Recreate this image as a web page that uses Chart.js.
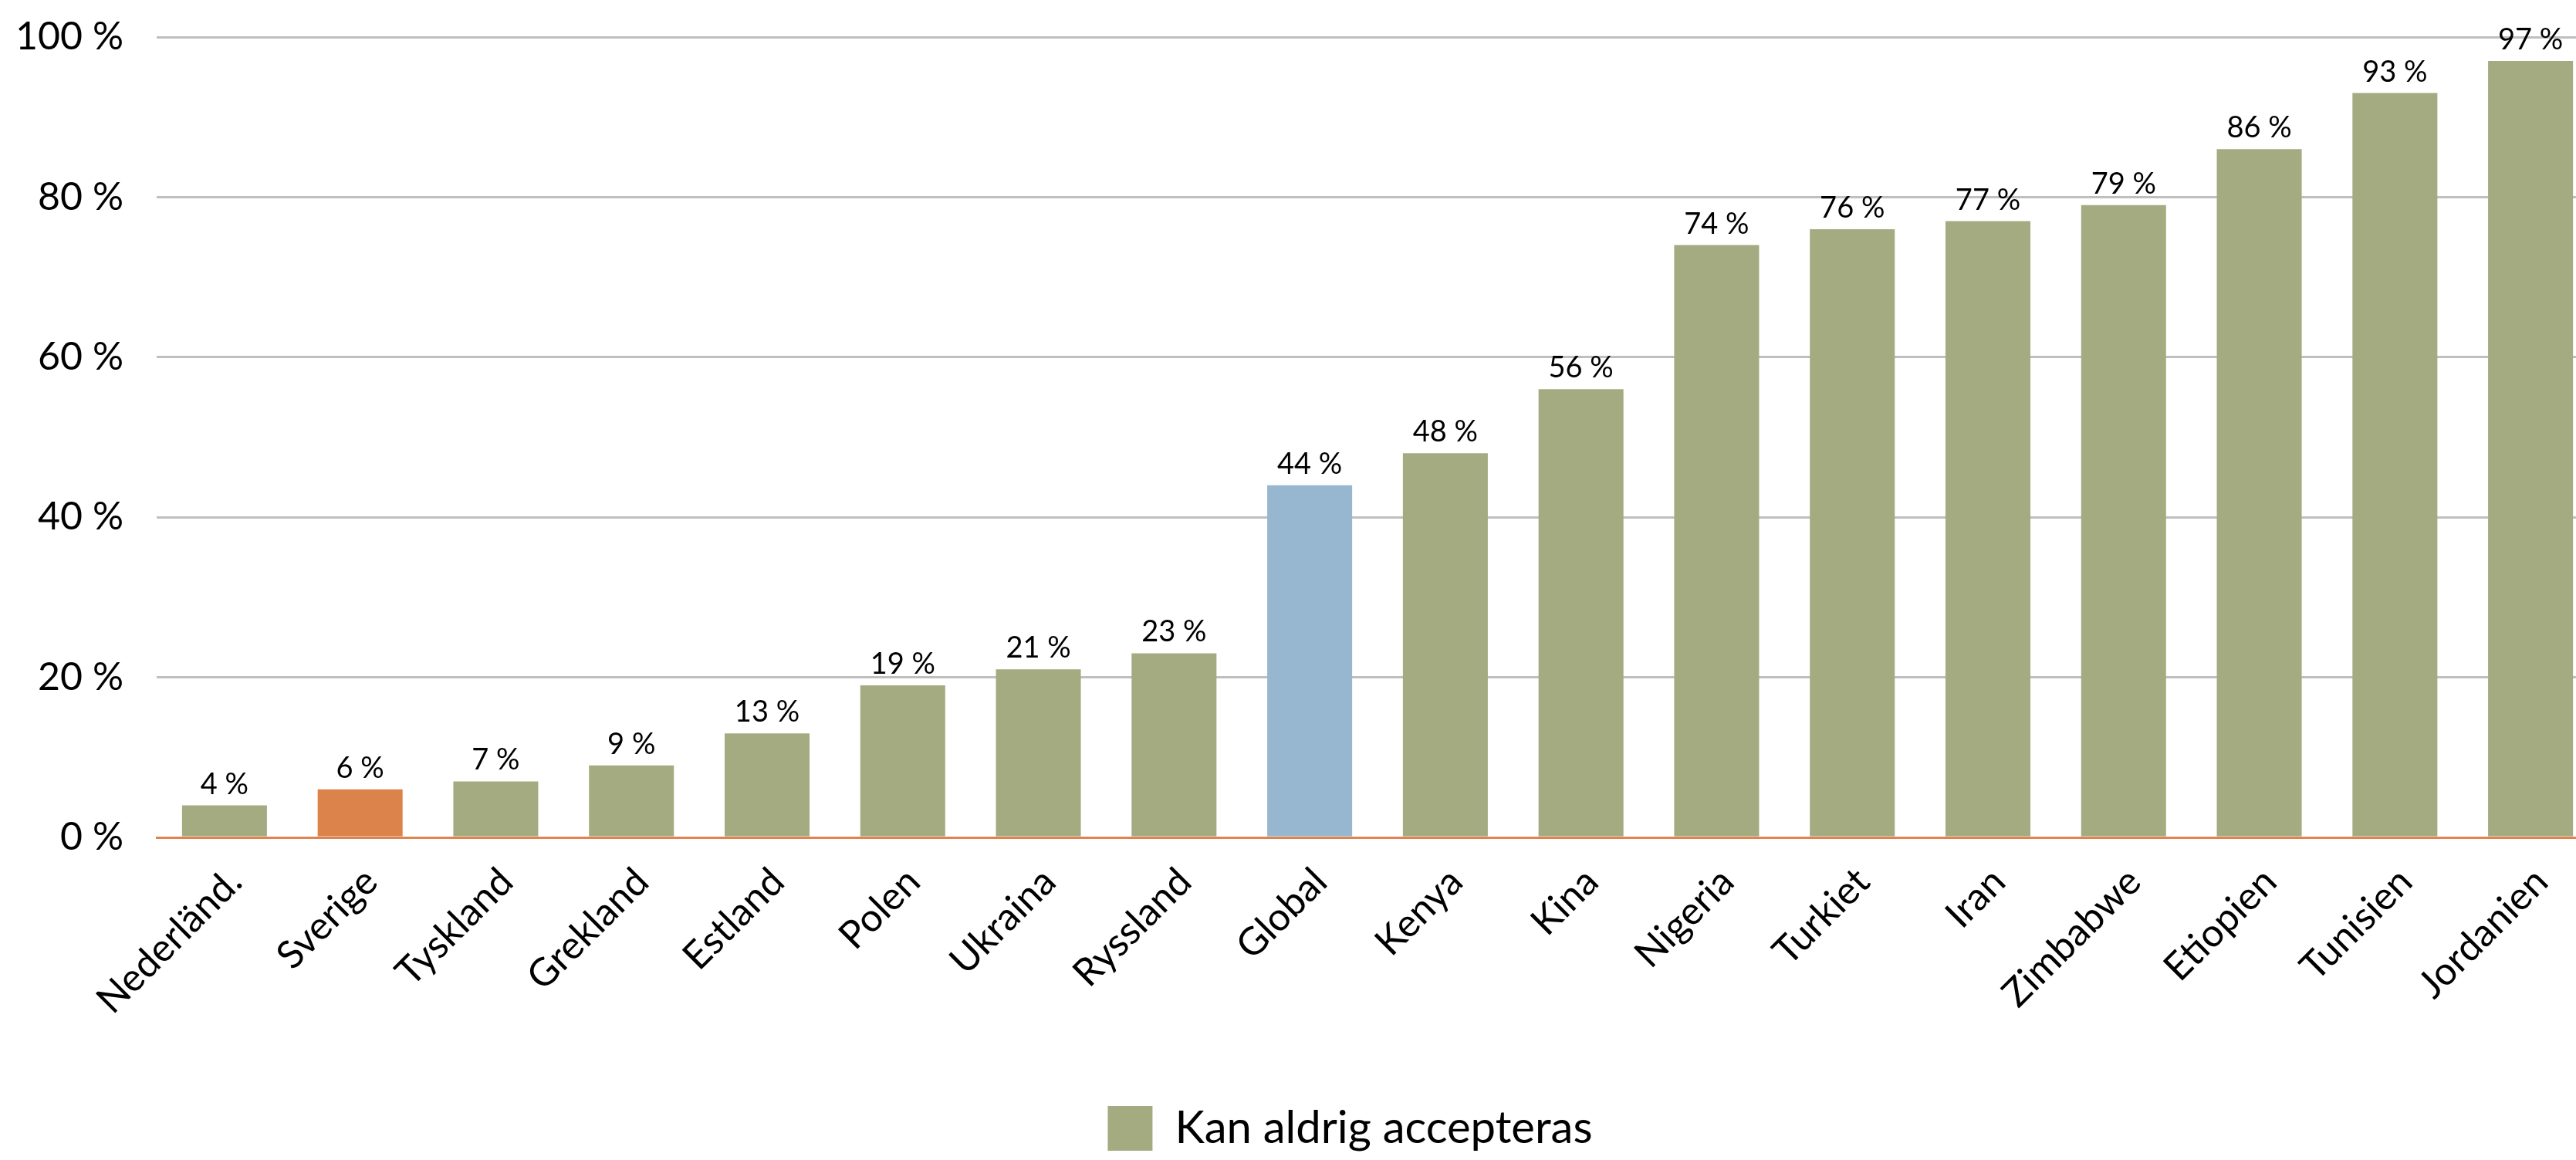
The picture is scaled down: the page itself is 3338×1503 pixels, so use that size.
<!DOCTYPE html>
<html lang="sv">
<head>
<meta charset="utf-8">
<title>Kan aldrig accepteras</title>
<script src="https://cdn.jsdelivr.net/npm/chart.js@4.4.1/dist/chart.umd.min.js"></script>
<style>
    html, body { margin: 0; padding: 0; background: #fff; overflow: hidden; }
</style>
</head>
<body>
<canvas id="grafico" width="3367" height="1503"></canvas>
<script>
const kategorier = ['Nederländ.', 'Sverige', 'Tyskland', 'Grekland', 'Estland', 'Polen', 'Ukraina', 'Ryssland', 'Global',
    'Kenya', 'Kina', 'Nigeria', 'Turkiet', 'Iran', 'Zimbabwe', 'Etiopien', 'Tunisien', 'Jordanien'];
const andel = [4, 6, 7, 9, 13, 19, 21, 23, 44, 48, 56, 74, 76, 77, 79, 86, 93, 97];
const serieNamn = 'Kan aldrig accepteras';
const yTicks = [0, 20, 40, 60, 80, 100];

document.addEventListener('DOMContentLoaded', function() {
    const ctx = document.getElementById('grafico').getContext('2d');
    const font = 'Lato';

    const gron = '#A4AB80';
    const farg = function(c) {
        const namn = kategorier[c.dataIndex];
        if (namn === 'Sverige') return '#DC824B';
        if (namn === 'Global') return '#97B6CF';
        return gron;
    };

    // etiketter ovanför staplarna
    const etiketter = {
        id: 'etiketter',
        afterDatasetsDraw(chart) {
            const c = chart.ctx;
            const meta = chart.getDatasetMeta(0);
            c.save();
            c.font = '38px ' + font;
            c.fillStyle = '#000';
            c.textAlign = 'center';
            c.textBaseline = 'alphabetic';
            meta.data.forEach(function(bar, i) {
                c.fillText(andel[i] + ' %', bar.x, bar.y - 15);
            });
            c.restore();
        }
    };

    // flytta legenden lite åt höger
    const legendFlytt = {
        id: 'legendFlytt',
        afterLayout(chart) {
            chart.legend.left += 66;
            chart.legend.right += 66;
        }
    };

    new Chart(ctx, {
        type: 'bar',
        data: {
            labels: kategorier,
            datasets: [{
                label: serieNamn,
                data: andel,
                backgroundColor: farg,
                borderWidth: 0,
                categoryPercentage: 1,
                barPercentage: 0.626
            }]
        },
        options: {
            responsive: false,
            animation: false,
            layout: { padding: { top: 48, left: 0, right: 0, bottom: 2 } },
            scales: {
                x: {
                    grid: { display: false },
                    border: { display: true, color: '#DD8450', width: 3 },
                    ticks: {
                        autoSkip: false,
                        minRotation: 45,
                        maxRotation: 45,
                        color: '#000',
                        font: { family: font, size: 50 },
                        padding: 20,
                        labelOffset: 14
                    },
                    afterFit(scale) {
                        scale.height = 338;
                        scale.paddingLeft = 0;
                        scale.paddingRight = 0;
                    }
                },
                y: {
                    min: 0,
                    max: 100,
                    afterBuildTicks(scale) { scale.ticks = yTicks.map(v => ({ value: v })); },
                    grid: {
                        color: c => c.tick && c.tick.value === 0 ? 'rgba(0,0,0,0)' : '#BFBFBF',
                        lineWidth: 3,
                        drawTicks: false
                    },
                    border: { display: false },
                    ticks: {
                        color: '#000',
                        font: { family: font, size: 50 },
                        padding: 43,
                        callback: v => v + ' %'
                    },
                    afterFit(scale) {
                        scale.width = 203;
                        scale.paddingTop = 0;
                        scale.paddingBottom = 0;
                    }
                }
            },
            plugins: {
                legend: {
                    position: 'bottom',
                    labels: {
                        boxWidth: 58,
                        boxHeight: 58,
                        padding: 10,
                        color: '#000',
                        font: { family: font, size: 58 },
                        generateLabels(chart) {
                            return [{
                                text: serieNamn,
                                fillStyle: gron,
                                strokeStyle: gron,
                                lineWidth: 0,
                                datasetIndex: 0,
                                hidden: false
                            }];
                        }
                    }
                },
                tooltip: { enabled: false }
            }
        },
        plugins: [etiketter, legendFlytt]
    });
});
</script>
</body>
</html>
